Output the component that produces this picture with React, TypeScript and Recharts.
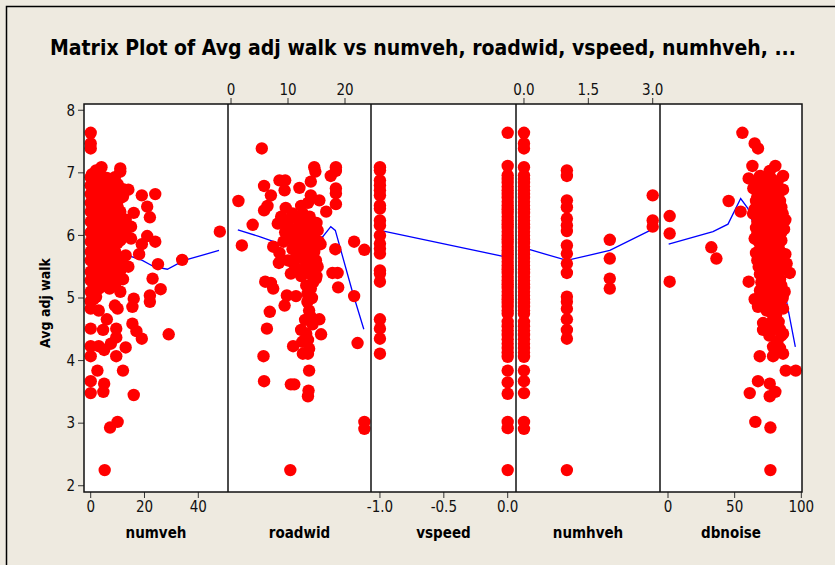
import React from "react";
import { ScatterChart, Scatter, XAxis, YAxis } from "recharts";

// response shared by every panel
const yTicks = [2, 3, 4, 5, 6, 7, 8];
const yDomain: [number, number] = [1.9, 8.1];

const numvehPts: [number, number][] = [
  [0, 7.64], [0, 7.47], [0, 7.39], [2, 7.04], [4, 7.09], [11, 7.07], [11, 7.02], [9, 6.93],
  [0, 6.93], [1, 6.88], [3, 6.85], [5, 6.86], [7, 6.9], [0, 6.8], [2, 6.76], [4, 6.7],
  [6, 6.78], [8, 6.72], [10, 6.82], [12, 6.74], [14, 6.73], [0, 6.66], [1, 6.6], [3, 6.62],
  [5, 6.55], [7, 6.6], [9, 6.55], [11, 6.6], [0, 6.52], [2, 6.46], [4, 6.42], [6, 6.48],
  [8, 6.4], [10, 6.45], [0, 6.38], [1, 6.32], [3, 6.3], [5, 6.35], [7, 6.28], [13, 6.25],
  [16, 6.36], [19, 6.64], [24, 6.66], [21, 6.46], [22, 6.29], [0, 6.22], [2, 6.18], [4, 6.15],
  [6, 6.2], [9, 6.17], [11, 6.12], [15, 6.14], [0, 6.05], [1, 6.0], [3, 6.04], [5, 5.98],
  [7, 6.02], [9, 5.96], [12, 6.0], [15, 5.95], [21, 5.99], [24, 5.9], [19, 5.86], [18, 5.7],
  [0, 5.9], [1, 5.84], [3, 5.8], [5, 5.86], [7, 5.82], [10, 5.88], [0, 5.74], [2, 5.7],
  [4, 5.66], [6, 5.72], [8, 5.64], [11, 5.62], [13, 5.68], [0, 5.6], [1, 5.55], [3, 5.58],
  [5, 5.5], [9, 5.52], [14, 5.5], [0, 5.42], [2, 5.38], [5, 5.4], [7, 5.35], [11, 5.44],
  [0, 5.28], [1, 5.22], [4, 5.18], [6, 5.25], [9, 5.2], [12, 5.3], [10, 5.28], [11, 5.1],
  [48, 6.06], [34, 5.61], [25, 5.54], [23, 5.31], [26, 5.14], [22, 5.04], [22, 4.94], [16, 4.99],
  [15.5, 4.86], [9, 4.88], [10, 4.83], [0, 5.1], [0, 4.95], [2, 5.02], [3, 4.8], [0, 4.83],
  [6, 4.66], [15.5, 4.59], [17, 4.47], [19, 4.35], [29, 4.42], [0, 4.51], [4.6, 4.49], [9.5, 4.51],
  [9.5, 4.37], [0, 4.23], [3, 4.23], [5, 4.17], [7.5, 4.27], [13, 4.21], [0, 4.07], [9.5, 4.07],
  [2.5, 3.84], [12, 3.84], [0, 3.67], [5, 3.63], [0, 3.48], [4.7, 3.5], [16, 3.45], [10, 3.02],
  [7.2, 2.93], [5.2, 2.25],
  [0.5, 6.98], [2, 6.9], [4, 6.95], [6, 6.92], [8, 6.85], [1, 6.72], [3, 6.68], [5, 6.68],
  [7, 6.72], [9, 6.68], [12, 6.62], [2, 6.58], [4, 6.55], [6, 6.58], [8, 6.52], [10, 6.55],
  [1, 6.44], [3, 6.4], [5, 6.45], [7, 6.42], [9, 6.35], [11, 6.38], [2, 6.26], [4, 6.3],
  [6, 6.32], [8, 6.25], [10, 6.28], [1, 6.12], [3, 6.1], [5, 6.12], [7, 6.15], [8, 6.05],
  [13, 6.08], [2, 5.95], [4, 5.9], [6, 5.92], [8, 5.9], [11, 5.92], [1, 5.78], [3, 5.72],
  [5, 5.76], [7, 5.68], [9, 5.75], [2, 5.6], [4, 5.55], [6, 5.6], [8, 5.5], [10, 5.58],
  [1, 5.45], [3, 5.48], [6, 5.45], [8, 5.35], [2, 5.3], [3, 5.15], [5, 5.3], [7, 5.15], [1, 4.98],
];
const numvehLine: [number, number][] = [
  [0, 5.95], [5, 5.85], [9.9, 5.74], [19.2, 5.6], [23.5, 5.5], [28.5, 5.46], [34.7, 5.6], [47.7, 5.76],
];

const roadwidPts: [number, number][] = [
  [5.4, 7.39], [14.6, 7.09], [18.4, 7.09], [18.4, 7.03], [14.8, 7.02], [17.5, 6.95], [8.5, 6.88], [9.5, 6.88],
  [5.8, 6.79], [14, 6.86], [12, 6.76], [18.4, 6.75], [18.4, 6.67], [7, 6.64], [9.4, 6.72], [1.3, 6.55],
  [14, 6.64], [15.5, 6.56], [18.4, 6.5], [6.4, 6.47], [5.8, 6.4], [9.6, 6.44], [12.3, 6.47], [12.6, 6.35],
  [16.7, 6.38], [13.5, 6.52], [11, 6.3], [3.8, 6.17], [8.2, 6.19], [8.8, 6.3], [14.6, 6.15], [10.5, 6.1],
  [11.5, 6.0], [12.5, 6.05], [13.2, 5.95], [14, 6.02], [15.2, 6.08], [10, 5.95], [11.2, 5.9], [12.8, 5.85],
  [13.8, 5.92], [14.5, 5.98], [9.5, 6.05], [12, 6.18], [13, 6.25], [1.9, 5.84], [7.4, 5.82], [21.6, 5.9],
  [23.4, 5.77], [18.3, 5.78], [15.7, 5.86], [14.6, 5.74], [14.9, 5.6], [8.5, 5.72], [11.4, 5.63], [8.4, 5.56],
  [13.7, 5.51], [15.2, 5.5], [13.5, 5.68], [10.5, 5.39], [12, 5.45], [12.3, 5.35], [17.8, 5.4], [18.7, 5.4],
  [6, 5.26], [7, 5.24], [7.4, 5.15], [14.9, 5.31], [14, 5.15], [13.4, 5.07], [18.8, 5.17], [21.6, 5.03],
  [9.8, 5.04], [11.4, 5.03], [9.4, 4.88], [13.4, 4.94], [13.7, 4.8], [6.8, 4.78], [6.3, 4.51], [15.5, 4.66],
  [14.3, 4.58], [12.3, 4.49], [15.8, 4.42], [13.2, 4.43], [13.5, 4.33], [13.7, 4.19], [13.5, 4.11], [12.6, 4.11],
  [22.2, 4.28], [10.9, 4.23], [5.7, 4.07], [5.8, 3.67], [10.5, 3.62], [11.1, 3.62], [13.7, 3.84], [13.6, 3.52],
  [13.5, 3.43], [23.4, 3.02], [23.4, 2.91], [10.4, 2.25], [9, 6.2], [10.2, 6.25], [11.8, 6.12], [13.8, 6.3],
  [14.2, 5.8], [12.2, 5.72], [10.8, 5.78], [9.2, 5.9], [15, 6.2], [14.8, 5.45], [13.9, 5.38], [14.4, 5.25],
  [11, 5.55], [13, 5.6], [10.8, 6.35], [12, 6.05], [13.5, 6.1], [11.5, 5.85], [12.6, 5.9], [14.2, 6.12],
  [15.4, 5.9], [13, 5.45], [14.4, 5.55], [15, 5.35], [10, 5.6], [13.2, 5.2], [14.2, 5.0], [13, 4.65],
  [14, 4.7], [12.5, 4.3],
];
const roadwidLine: [number, number][] = [
  [1.2, 6.09], [5, 5.98], [8.5, 5.87], [10.8, 5.87], [11.2, 5.74], [13, 5.8], [16.1, 5.98], [17.5, 6.14],
  [18.3, 6.08], [21.3, 5.1], [23.3, 4.5],
];

const vspeedNeg = [7.09, 7.04, 6.88, 6.8, 6.72, 6.64, 6.48, 6.43, 6.24, 6.16, 6.0, 5.87, 5.79, 5.71, 5.44, 5.39, 5.26, 4.66, 4.51, 4.35, 4.11];
const vspeedZero = [
  7.64, 7.11, 6.96, 6.9, 6.84, 6.78, 6.72, 6.66, 6.6, 6.54, 6.48, 6.42, 6.36, 6.3, 6.24, 6.18, 6.12, 6.06,
  6.0, 5.94, 5.88, 5.82, 5.76, 5.7, 5.64, 5.58, 5.52, 5.46, 5.4, 5.34, 5.28, 5.22, 5.16, 5.1, 5.04, 4.98,
  4.92, 4.86, 4.8, 4.75, 4.62, 4.55, 4.48, 4.41, 4.34, 4.27, 4.2, 4.13, 4.06, 3.84, 3.65, 3.47, 3.02, 2.92, 2.25,
];
const vspeedLine: [number, number][] = [[-1, 6.08], [0, 5.65]];

const numhveh0 = [
  7.64, 7.47, 7.39, 7.09, 6.96, 6.9, 6.84, 6.78, 6.72, 6.66, 6.6, 6.54, 6.48, 6.42, 6.36, 6.3, 6.24, 6.18,
  6.12, 6.06, 6.0, 5.94, 5.88, 5.82, 5.76, 5.7, 5.64, 5.58, 5.52, 5.46, 5.4, 5.34, 5.28, 5.22, 5.16, 5.1,
  5.04, 4.98, 4.92, 4.86, 4.8, 4.75, 4.62, 4.55, 4.48, 4.41, 4.34, 4.27, 4.2, 4.13, 4.06, 3.84, 3.67, 3.48, 3.02, 2.91,
];
const numhveh1 = [7.04, 6.95, 6.56, 6.45, 6.27, 6.16, 6.07, 5.84, 5.71, 5.55, 5.4, 5.02, 4.94, 4.83, 4.66, 4.49, 4.35, 2.25];
const numhveh2 = [5.93, 5.63, 5.31, 5.15];
const numhveh3 = [6.64, 6.24, 6.14];
const numhvehLine: [number, number][] = [[0, 5.8], [1, 5.6], [2, 5.76], [3, 6.1]];

const dbnoisePts: [number, number][] = [
  [1.25, 6.31], [1.25, 6.03], [1.25, 5.26], [45.5, 6.55], [32.5, 5.81], [36.3, 5.63], [55.8, 7.64], [65, 7.47],
  [67.5, 7.39], [63.3, 7.11], [80.5, 7.11], [76.3, 7.03], [86.3, 6.95], [60.5, 6.91], [86.3, 6.73], [54.5, 6.38],
  [63.8, 6.35], [66, 6.85], [70, 6.88], [74, 6.8], [78, 6.9], [82, 6.85], [68, 6.7], [72, 6.65],
  [76, 6.72], [80, 6.62], [84, 6.55], [66, 6.55], [70, 6.5], [74, 6.45], [78, 6.5], [82, 6.4],
  [86, 6.35], [68, 6.3], [72, 6.25], [76, 6.3], [80, 6.2], [84, 6.15], [87, 6.1], [66, 6.12],
  [70, 6.05], [74, 6.0], [78, 6.08], [82, 5.98], [85, 5.92], [68, 5.9], [72, 5.85], [76, 5.88],
  [80, 5.8], [84, 5.75], [88, 5.7], [66, 5.72], [70, 5.65], [74, 5.6], [78, 5.68], [82, 5.55],
  [86, 5.5], [68, 5.5], [72, 5.45], [76, 5.42], [80, 5.35], [84, 5.3], [70, 5.25], [74, 5.2],
  [78, 5.15], [82, 5.1], [72, 5.0], [76, 4.95], [80, 4.9], [84, 4.95], [74, 4.8], [78, 4.75],
  [82, 4.8], [91.3, 5.4], [60.5, 5.26], [87.5, 5.1], [65, 4.98], [67.5, 4.86], [86.3, 4.83], [71.3, 4.6],
  [71.3, 4.49], [80, 4.65], [86.3, 4.43], [78.8, 4.22], [86.3, 4.11], [68.8, 4.07], [78.8, 4.07], [82, 4.3],
  [84, 4.5], [76, 4.4], [88.3, 3.84], [95.8, 3.84], [67.5, 3.67], [61.3, 3.48], [76.3, 3.63], [80.5, 3.5],
  [76.3, 3.43], [65.5, 3.02], [76.8, 2.93], [76.8, 2.25],
  [64, 6.75], [67, 6.62], [69, 6.95], [71, 6.78], [73, 6.58], [75, 6.9], [77, 6.62], [79, 6.75],
  [81, 6.55], [83, 6.68], [85, 6.45], [65, 6.42], [67, 6.22], [69, 6.4], [71, 6.18], [73, 6.35],
  [75, 6.15], [77, 6.4], [79, 6.28], [81, 6.32], [83, 6.25], [85, 6.05], [88, 6.25], [65, 5.95],
  [67, 6.02], [69, 5.78], [71, 5.95], [73, 5.72], [75, 5.98], [77, 5.78], [79, 5.92], [81, 5.7],
  [83, 5.85], [86, 5.65], [89, 5.55], [67, 5.6], [69, 5.38], [71, 5.55], [73, 5.32], [75, 5.52],
  [77, 5.3], [79, 5.5], [81, 5.22], [83, 5.42], [85, 5.2], [69, 5.12], [71, 4.9], [73, 5.1],
  [75, 4.85], [77, 5.05], [79, 5.0], [81, 4.72], [83, 4.85], [86, 5.0], [77, 4.6], [79, 4.5],
  [83, 4.62], [85, 4.4], [81, 4.15], [84, 4.2], [73, 4.55],
];
const dbnoiseLine: [number, number][] = [
  [0.5, 5.86], [33.75, 6.06], [45, 6.18], [54.5, 6.59], [60, 6.43], [66.3, 6.04], [85, 5.44], [88.7, 4.97], [95.5, 4.22],
];

const toXY = (arr: [number, number][]) => arr.map(([x, y]) => ({ x, y }));
const col = (x: number, ys: number[]) => ys.map((y) => ({ x, y }));

const FONT = "'DejaVu Sans Condensed', 'DejaVu Sans', sans-serif";
const PLOT_TOP = 104;
const PLOT_BOTTOM = 492;

const Dot = (p: any) => <circle cx={p.cx} cy={p.cy} r={6.2} fill="#FF0000" />;
const NoDot = () => <g />;

type PanelProps = {
  left: number;
  right: number;
  points: { x: number; y: number }[];
  line: { x: number; y: number }[];
  domain: [number, number];
  ticks: number[];
  top?: boolean;
  digits?: number;
  showY?: boolean;
};

function Panel({ left, right, points, line, domain, ticks, top, digits = 0, showY }: PanelProps) {
  const pad = 40;
  const chartTop = 60;
  const chartH = 500;
  const axisH = 30;
  const plotTop = PLOT_TOP - chartTop;
  const plotBottom = chartH - (PLOT_BOTTOM - chartTop);
  const margin = {
    top: top ? plotTop - axisH : plotTop,
    bottom: top ? plotBottom : plotBottom - axisH,
    left: showY ? pad - 30 : pad,
    right: pad,
  };
  const tickStyle = { fontSize: 15, fill: "#111", fontFamily: FONT };
  return (
    <div style={{ position: "absolute", left: left - pad, top: chartTop }}>
      <ScatterChart width={right - left + 2 * pad} height={chartH} margin={margin}>
        <XAxis
          type="number"
          dataKey="x"
          domain={domain}
          ticks={ticks}
          orientation={top ? "top" : "bottom"}
          height={axisH}
          axisLine={false}
          tickLine={{ stroke: "#333" }}
          tickSize={6}
          tickMargin={3}
          tick={tickStyle}
          tickFormatter={(v: number) => v.toFixed(digits)}
          interval={0}
        />
        <YAxis
          type="number"
          dataKey="y"
          domain={yDomain}
          ticks={yTicks}
          hide={!showY}
          width={30}
          axisLine={false}
          tickLine={{ stroke: "#333" }}
          tickSize={6}
          tickMargin={3}
          tick={tickStyle}
          interval={0}
        />
        <Scatter data={line} line={{ stroke: "#0000FF", strokeWidth: 1.3 }} shape={NoDot} isAnimationActive={false} />
        <Scatter data={points} shape={Dot} isAnimationActive={false} />
      </ScatterChart>
    </div>
  );
}

const panelEdges = [84, 228, 371, 516, 660, 802];
const axisLabels = ["numveh", "roadwid", "vspeed", "numhveh", "dbnoise"];

export default function App() {
  return (
    <div style={{ position: "absolute", left: 0, top: 0, width: 835, height: 565, background: "#EEEAE0", overflow: "hidden" }}>
      <div
        style={{
          position: "absolute",
          left: panelEdges[0],
          top: PLOT_TOP,
          width: panelEdges[5] - panelEdges[0],
          height: PLOT_BOTTOM - PLOT_TOP,
          background: "#fff",
        }}
      />
      <Panel left={84} right={228} points={toXY(numvehPts)} line={toXY(numvehLine)} domain={[-2.49, 51.04]} ticks={[0, 20, 40]} showY />
      <Panel left={228} right={371} points={toXY(roadwidPts)} line={toXY(roadwidLine)} domain={[-0.53, 24.56]} ticks={[0, 10, 20]} top />
      <Panel
        left={371}
        right={516}
        points={[...col(-1, vspeedNeg), ...col(0, vspeedZero)]}
        line={toXY(vspeedLine)}
        domain={[-1.07, 0.065]}
        ticks={[-1, -0.5, 0]}
        digits={1}
      />
      <Panel
        left={516}
        right={660}
        points={[...col(0, numhveh0), ...col(1, numhveh1), ...col(2, numhveh2), ...col(3, numhveh3)]}
        line={toXY(numhvehLine)}
        domain={[-0.186, 3.17]}
        ticks={[0, 1.5, 3]}
        digits={1}
        top
      />
      <Panel left={660} right={802} points={toXY(dbnoisePts)} line={toXY(dbnoiseLine)} domain={[-6, 100.5]} ticks={[0, 50, 100]} />

      <svg width={835} height={565} style={{ position: "absolute", left: 0, top: 0, pointerEvents: "none" }}>
        <path d="M6.5,565 V6.5 H835" fill="none" stroke="#000" strokeWidth={1.5} />
        <rect
          x={panelEdges[0]}
          y={PLOT_TOP}
          width={panelEdges[5] - panelEdges[0]}
          height={PLOT_BOTTOM - PLOT_TOP}
          fill="none"
          stroke="#111"
          strokeWidth={1.5}
        />
        {panelEdges.slice(1, 5).map((x) => (
          <line key={x} x1={x} x2={x} y1={PLOT_TOP} y2={PLOT_BOTTOM} stroke="#111" strokeWidth={1.5} />
        ))}
        <text x={423} y={55} textAnchor="middle" fontFamily={FONT} fontWeight="bold" fontSize={21} fill="#000">
          Matrix Plot of Avg adj walk vs numveh, roadwid, vspeed, numhveh, ...
        </text>
        <text
          x={50}
          y={303}
          transform="rotate(-90 50 303)"
          textAnchor="middle"
          fontFamily={FONT}
          fontWeight="bold"
          fontSize={14}
          fill="#000"
        >
          Avg adj walk
        </text>
        {axisLabels.map((t, i) => (
          <text
            key={t}
            x={(panelEdges[i] + panelEdges[i + 1]) / 2}
            y={538}
            textAnchor="middle"
            fontFamily={FONT}
            fontWeight="bold"
            fontSize={15}
            fill="#000"
          >
            {t}
          </text>
        ))}
      </svg>
    </div>
  );
}
